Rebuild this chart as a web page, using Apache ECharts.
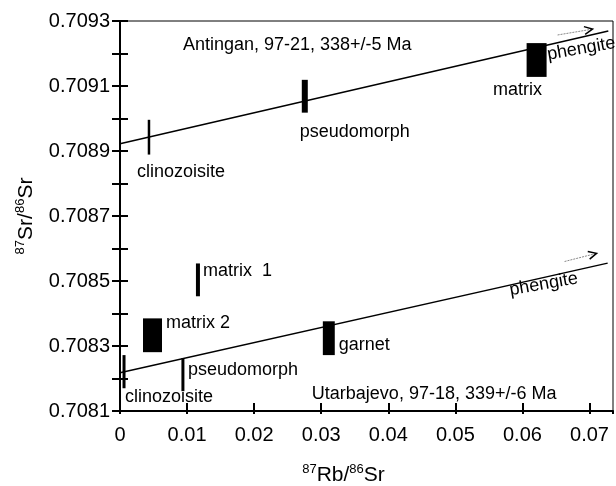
<!DOCTYPE html>
<html><head><meta charset="utf-8">
<script src="https://cdn.jsdelivr.net/npm/echarts@6/dist/echarts.min.js"></script>
<style>html,body{margin:0;padding:0;background:#fff}#c{width:616px;height:486px}</style>
</head><body><div id="c"></div>
<script>
// ---- tick labels ----
const X_TICK_LABELS = ['0', '0.01', '0.02', '0.03', '0.04', '0.05', '0.06', '0.07'];
const Y_TICK_LABELS = ['0.7081', '0.7083', '0.7085', '0.7087', '0.7089', '0.7091', '0.7093'];

// ---- Antingan, 97-21 ----
const antinganLine = [[0, 0.708922], [0.0728, 0.709269]];
const antinganBarX = [0.00432, 0.02755];
const antinganBarLo = [0.708889, 0.709018];
const antinganBarHi = [0.708996, 0.709119];
const antinganBoxX = [[0.06062, 0.06360]];
const antinganBoxY = [[0.709128, 0.709232]];
const antinganArrow = [[0.06524, 0.709257], [0.07045, 0.709275]];

// ---- Utarbajevo, 97-18 ----
const utarLine = [[0, 0.708218], [0.0727, 0.708555]];
const utarBarX = [0.0006, 0.00938, 0.01162];
const utarBarLo = [0.70817, 0.708161, 0.708453];
const utarBarHi = [0.708272, 0.708263, 0.708554];
const utarBoxX = [[0.00343, 0.00626], [0.03024, 0.03202]];
const utarBoxY = [[0.708281, 0.708385], [0.708272, 0.708376]];
const utarArrow = [[0.06628, 0.70856], [0.07105, 0.708585]];

// ---- annotations (anchor: left / middle) ----
const labelText = ['Antingan, 97-21, 338+/-5 Ma', 'clinozoisite', 'pseudomorph', 'matrix', 'phengite',
  'matrix  1', 'matrix 2', 'pseudomorph', 'clinozoisite', 'garnet', 'phengite', 'Utarbajevo, 97-18, 339+/-6 Ma'];
const labelX = [0.00938, 0.00253, 0.0268, 0.0556, 0.0637,
  0.01236, 0.00685, 0.01013, 0.00074, 0.03262, 0.05809, 0.0286];
const labelY = [0.7092263, 0.7088365, 0.7089593, 0.7090882, 0.7091956,
  0.7085296, 0.70837, 0.7082257, 0.7081428, 0.7083025, 0.7084713, 0.708152];

// ---- styles ----
const BAR_PX = { antingan: [2.5, 6], utar: [3, 3, 4] };
const LABEL_ROT_DEG = [0, 0, 0, 0, 10, 0, 0, 0, 0, 0, 10, 0];
const FONT = '"Liberation Sans", Arial, sans-serif';

const barData = [];
antinganBarX.forEach((x, i) => barData.push([x, antinganBarLo[i], antinganBarHi[i], BAR_PX.antingan[i]]));
utarBarX.forEach((x, i) => barData.push([x, utarBarLo[i], utarBarHi[i], BAR_PX.utar[i]]));
const boxData = [];
antinganBoxX.forEach((bx, i) => boxData.push([bx[0], bx[1], antinganBoxY[i][0], antinganBoxY[i][1]]));
utarBoxX.forEach((bx, i) => boxData.push([bx[0], bx[1], utarBoxY[i][0], utarBoxY[i][1]]));
const arrowData = [antinganArrow, utarArrow].map(a => [a[0][0], a[0][1], a[1][0], a[1][1]]);
const labelData = labelText.map((t, i) => [labelX[i], labelY[i], i]);

const chart = echarts.init(document.getElementById('c'), null, { renderer: 'canvas' });

const richTitle = {
  sup: { fontSize: 13, fontFamily: FONT, color: '#000', verticalAlign: 'top', lineHeight: 24 },
  b: { fontSize: 21, fontFamily: FONT, color: '#000', lineHeight: 24 }
};

const xFmt = v => {
  const k = Math.round(v * 100);
  if (Math.abs(v * 100 - k) > 1e-6) return '';
  return X_TICK_LABELS[k] !== undefined ? X_TICK_LABELS[k] : '';
};
const yFmt = v => {
  const k = Math.round(v * 10000);
  if ((k - 7081) % 2 !== 0) return '';
  const idx = (k - 7081) / 2;
  return Y_TICK_LABELS[idx] !== undefined ? Y_TICK_LABELS[idx] : '';
};

const option = {
  backgroundColor: '#fff',
  animation: false,
  grid: {
    left: 120, right: 3, top: 21, bottom: 75, show: true, borderColor: '#000', borderWidth: 1,
    backgroundColor: 'transparent', containLabel: false, outerBoundsMode: 'none'
  },
  xAxis: [
    {
      type: 'value', min: 0, max: 0.0735, interval: 0.01, position: 'bottom',
      axisLine: { show: true, lineStyle: { color: '#000', width: 2 } },
      axisTick: { show: true, inside: true, length: 8, lineStyle: { color: '#000', width: 2 } },
      axisLabel: { formatter: xFmt, color: '#000', fontSize: 20, fontFamily: FONT, margin: 14, showMaxLabel: false },
      splitLine: { show: false },
      name: '{sup|87}{b|Rb/}{sup|86}{b|Sr}', nameLocation: 'middle', nameGap: 52,
      nameTextStyle: { rich: richTitle, padding: [0, 46, 0, 0] }
    },
    {
      type: 'value', min: 0, max: 0.0735, interval: 0.01, position: 'bottom',
      axisLine: { show: false },
      axisTick: { show: true, inside: false, length: 3, lineStyle: { color: '#000', width: 2 } },
      axisLabel: { show: false }, splitLine: { show: false }
    }
  ],
  yAxis: [
    {
      type: 'value', min: 0.7081, max: 0.7093, interval: 0.0001, position: 'left',
      axisLine: { show: true, lineStyle: { color: '#000', width: 2 } },
      axisTick: { show: true, inside: true, length: 8, lineStyle: { color: '#000', width: 2 } },
      axisLabel: { formatter: yFmt, color: '#000', fontSize: 20, fontFamily: FONT, margin: 10 },
      splitLine: { show: false },
      name: '{sup|87}{b|Sr/}{sup|86}{b|Sr}', nameLocation: 'middle', nameGap: 82, nameRotate: 90,
      nameTextStyle: { rich: richTitle }
    },
    {
      type: 'value', min: 0.7081, max: 0.7093, interval: 0.0001, position: 'left',
      axisLine: { show: false },
      axisTick: { show: true, inside: false, length: 8, lineStyle: { color: '#000', width: 2 } },
      axisLabel: { show: false }, splitLine: { show: false }
    }
  ],
  series: [
    {
      name: 'Antingan isochron', type: 'line', data: antinganLine, symbol: 'none',
      lineStyle: { color: '#000', width: 1.5 }, silent: true
    },
    {
      name: 'Utarbajevo isochron', type: 'line', data: utarLine, symbol: 'none',
      lineStyle: { color: '#000', width: 1.5 }, silent: true
    },
    {
      name: 'error bars', type: 'custom', data: barData,
      renderItem: (params, api) => {
        const p1 = api.coord([api.value(0), api.value(2)]);
        const p2 = api.coord([api.value(0), api.value(1)]);
        const w = api.value(3);
        return { type: 'rect', shape: { x: p1[0] - w / 2, y: p1[1], width: w, height: p2[1] - p1[1] }, style: { fill: '#000' } };
      }
    },
    {
      name: 'error boxes', type: 'custom', data: boxData,
      renderItem: (params, api) => {
        const p1 = api.coord([api.value(0), api.value(3)]);
        const p2 = api.coord([api.value(1), api.value(2)]);
        return { type: 'rect', shape: { x: p1[0], y: p1[1], width: p2[0] - p1[0], height: p2[1] - p1[1] }, style: { fill: '#000' } };
      }
    },
    {
      name: 'arrows', type: 'custom', data: arrowData,
      renderItem: (params, api) => {
        const a = api.coord([api.value(0), api.value(1)]);
        const b = api.coord([api.value(2), api.value(3)]);
        const ang = Math.atan2(b[1] - a[1], b[0] - a[0]);
        const L = 9, spread = 0.45;
        const h1 = [b[0] - L * Math.cos(ang - spread), b[1] - L * Math.sin(ang - spread)];
        const h2 = [b[0] - L * Math.cos(ang + spread), b[1] - L * Math.sin(ang + spread)];
        return {
          type: 'group', children: [
            { type: 'line', shape: { x1: a[0], y1: a[1], x2: b[0], y2: b[1] }, style: { stroke: '#888', lineWidth: 1, lineDash: [2, 1] } },
            { type: 'polyline', shape: { points: [h1, b, h2] }, style: { stroke: '#000', lineWidth: 1.5, fill: null } }
          ]
        };
      }
    },
    {
      name: 'annotations', type: 'custom', data: labelData,
      renderItem: (params, api) => {
        const p = api.coord([api.value(0), api.value(1)]);
        const i = api.value(2);
        return {
          type: 'text', x: p[0], y: p[1], rotation: LABEL_ROT_DEG[i] * Math.PI / 180,
          style: { text: labelText[i], fill: '#000', font: '18px ' + FONT, align: 'left', verticalAlign: 'middle' }
        };
      }
    }
  ]
};
chart.setOption(option);
</script>
</body></html>
